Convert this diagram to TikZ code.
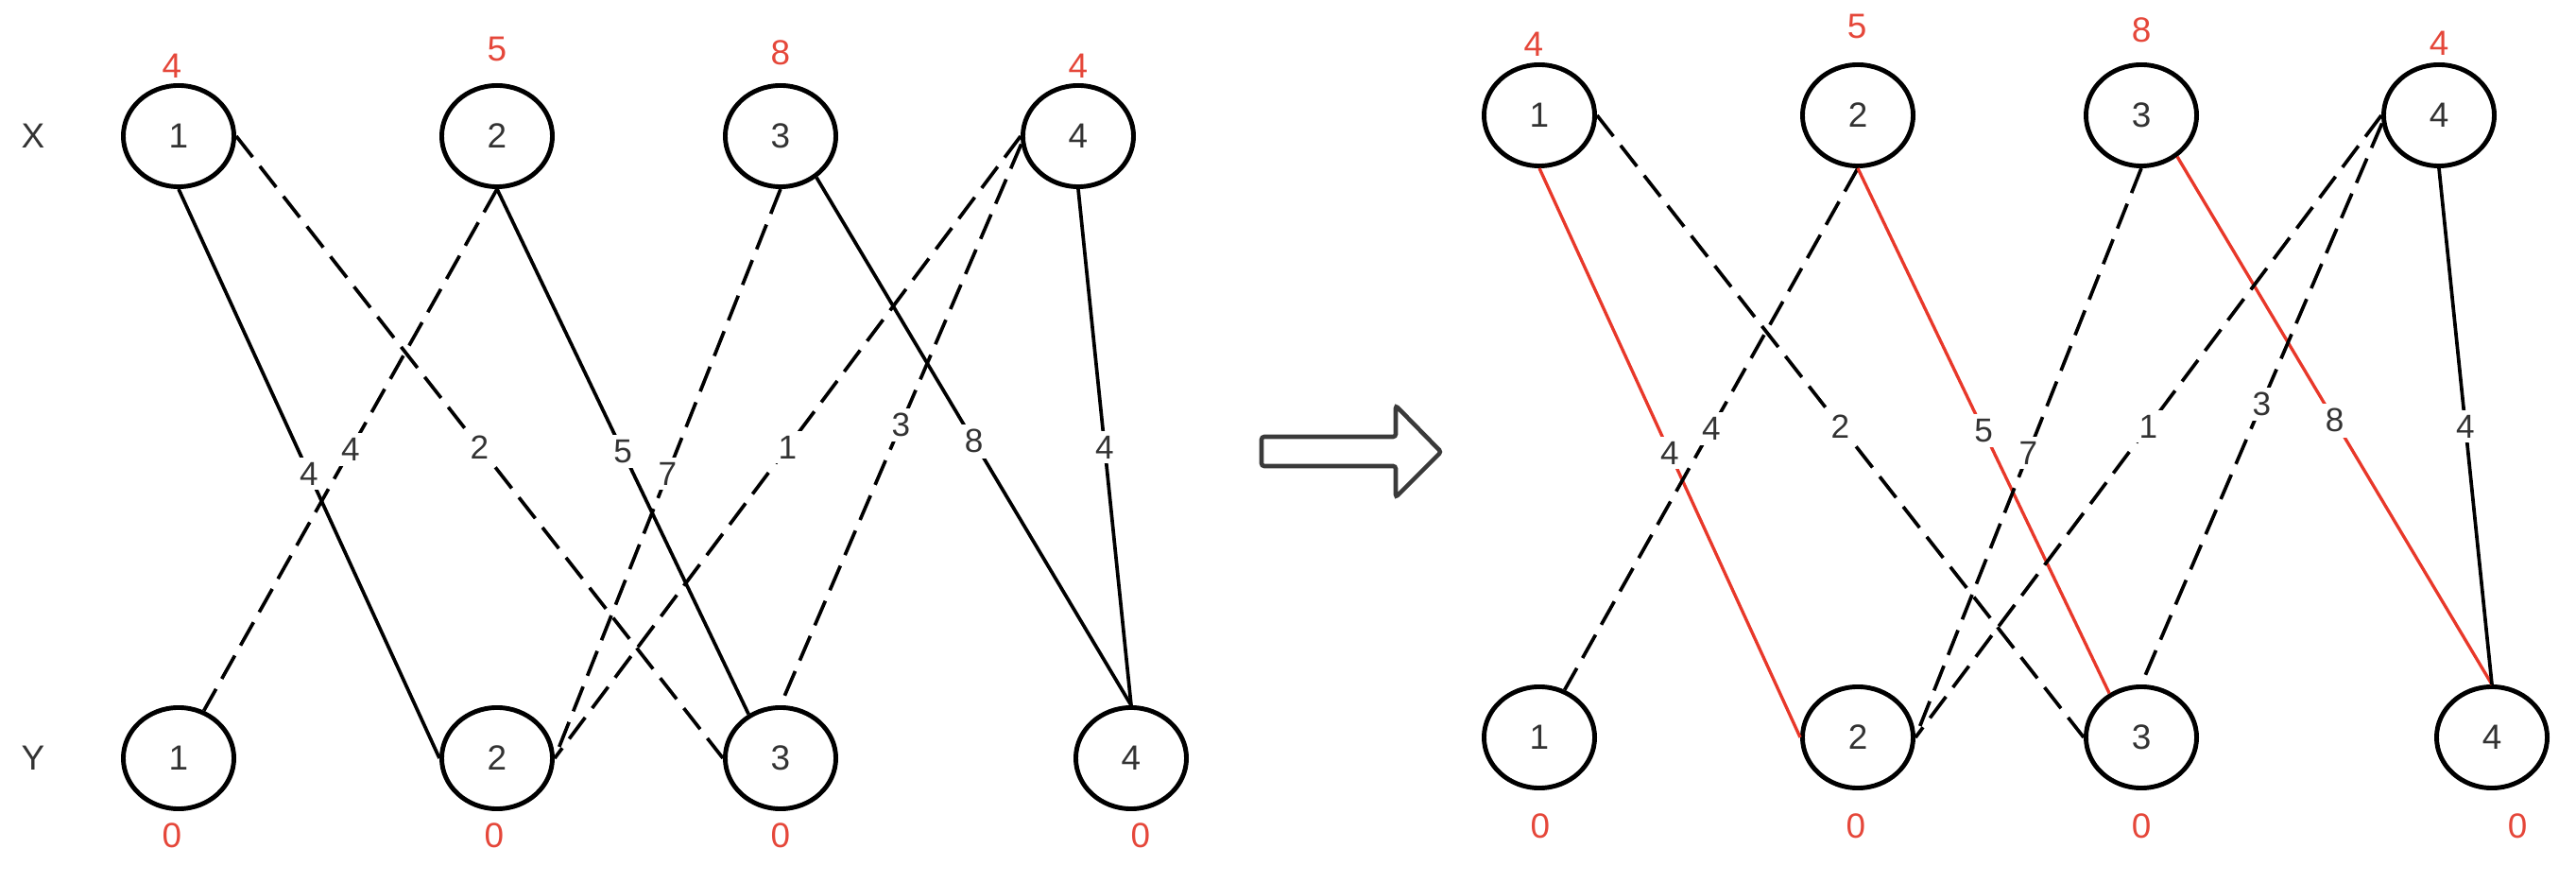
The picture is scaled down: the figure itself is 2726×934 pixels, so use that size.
\documentclass[tikz,border=0pt]{standalone}
\usepackage{fontspec}
\setmainfont{Liberation Sans}
\usepackage{tikz}
\usetikzlibrary{shapes.geometric, positioning, calc}
\definecolor{potred}{HTML}{E5473A}
\definecolor{matchred}{HTML}{E8382A}
\definecolor{labgray}{HTML}{333333}
\definecolor{arrowgray}{HTML}{3A3A3A}

\tikzset{
  vertex/.style={ellipse, draw, line width=1.4pt, minimum width=1.17cm,
    minimum height=1.07cm, inner sep=0pt, text=labgray,
    font=\fontsize{10.5}{12}\selectfont},
  edge/.style={line width=1.05pt},
  slack/.style={edge, dash pattern=on 8pt off 3.5pt},
  match/.style={line width=0.95pt, draw=matchred},
  wt/.style={midway, fill=white, inner sep=1.5pt, text=labgray,
    font=\fontsize{10}{12}\selectfont},
  pot/.style={text=potred, font=\fontsize{10.5}{12}\selectfont},
  side/.style={text=labgray, font=\fontsize{10.5}{12}\selectfont}
}

\begin{document}
\begin{tikzpicture}[x=0.01cm, y=-0.01cm]
          \useasboundingbox (0,0) rectangle (2726,934);

          % before
          \node[side] (xlab) at (35,144) {X};
          \node[side] (ylab) at (35,802) {Y};

          \node[vertex] (x1) at (189,144) {1};
          \node[vertex] (x2) at (526,144) {2};
          \node[vertex] (x3) at (826,144) {3};
          \node[vertex] (x4) at (1141,144) {4};
          \node[vertex] (y1) at (189,802) {1};
          \node[vertex] (y2) at (526,802) {2};
          \node[vertex] (y3) at (826,802) {3};
          \node[vertex] (y4) at (1197,802) {4};

          \node[pot] (lx1) at (182,70) {4};
          \node[pot] (lx2) at (526,52) {5};
          \node[pot] (lx3) at (826,56) {8};
          \node[pot] (lx4) at (1141,70) {4};
          \node[pot] (ly1) at (182,884) {0};
          \node[pot] (ly2) at (523,884) {0};
          \node[pot] (ly3) at (826,884) {0};
          \node[pot] (ly4) at (1207,884) {0};

          \draw[edge] (x1.south) -- node[wt] {4} (y2.west);
          \draw[slack] (x1.east) -- node[wt] {2} (y3.west);
          \draw[slack] (x2.south) -- node[wt] {4} (y1.62);
          \draw[edge] (x2.south) -- node[wt] {5} (y3.126);
          \draw[slack] (x3.south) -- node[wt] {7} (y2.east);
          \draw[edge] (x3.311) -- node[wt] {8} (y4.north);
          \draw[slack] (x4.west) -- node[wt] {1} (y2.east);
          \draw[slack] (x4.188) -- node[wt] {3} (y3.north);
          \draw[edge] (x4.south) -- node[wt] {4} (y4.north);

          % arrow
          \draw[line width=1.3pt, draw=arrowgray, fill=white, rounded corners=0.8pt]
            (1335,462) -- (1477,462) -- (1477,429) -- (1525,478)
            -- (1477,526) -- (1477,493) -- (1335,493) -- cycle;

          % after
          \begin{scope}[shift={(1440,-22)}]
            \node[vertex] (rx1) at (189,144) {1};
            \node[vertex] (rx2) at (526,144) {2};
            \node[vertex] (rx3) at (826,144) {3};
            \node[vertex] (rx4) at (1141,144) {4};
            \node[vertex] (ry1) at (189,802) {1};
            \node[vertex] (ry2) at (526,802) {2};
            \node[vertex] (ry3) at (826,802) {3};
            \node[vertex] (ry4) at (1197,802) {4};

            \node[pot] (rlx1) at (183,69) {4};
            \node[pot] (rlx2) at (525,50) {5};
            \node[pot] (rlx3) at (826,54) {8};
            \node[pot] (rlx4) at (1141,68) {4};
            \node[pot] (rly1) at (190,896) {0};
            \node[pot] (rly2) at (524,896) {0};
            \node[pot] (rly3) at (826,896) {0};
            \node[pot] (rly4) at (1224,896) {0};

            \draw[match] (rx1.south) -- node[wt] {4} (ry2.west);
            \draw[slack] (rx1.east) -- node[wt] {2} (ry3.west);
            \draw[slack] (rx2.south) -- node[wt] {4} (ry1.62);
            \draw[match] (rx2.south) -- node[wt] {5} (ry3.126);
            \draw[slack] (rx3.south) -- node[wt] {7} (ry2.east);
            \draw[match] (rx3.311) -- node[wt] {8} (ry4.north);
            \draw[slack] (rx4.west) -- node[wt] {1} (ry2.east);
            \draw[slack] (rx4.188) -- node[wt] {3} (ry3.north);
            \draw[edge] (rx4.south) -- node[wt] {4} (ry4.north);
          \end{scope}
        \end{tikzpicture}
\end{document}
